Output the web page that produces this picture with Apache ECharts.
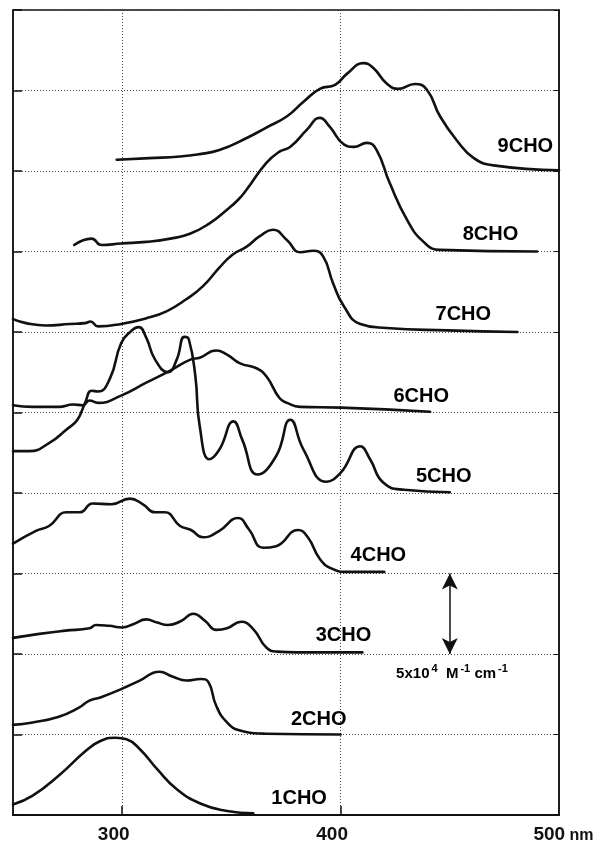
<!DOCTYPE html>
<html>
<head>
<meta charset="utf-8">
<script src="https://cdn.jsdelivr.net/npm/echarts@6/dist/echarts.min.js"></script>
<style>
  html, body { margin: 0; padding: 0; background: #fff; }
  #chart { width: 602px; height: 844px; }
</style>
</head>
<body>
<div id="chart"></div>
<script>
// wavelength (nm), offset absorbance in grid units (1 unit = 5x10^4 M-1 cm-1)
const cho1 = [[250,0.13],[259,0.24],[271,0.49],[283.5,0.80],[290,0.92],[297,0.96],[302,0.94],[308,0.82],[316,0.57],[325,0.32],[336,0.14],[348,0.05],[360,0.02]];
const cho2 = [[250,1.12],[259,1.15],[271,1.22],[280,1.33],[285,1.42],[290,1.46],[300,1.57],[308,1.67],[317,1.78],[323,1.72],[329.5,1.67],[336,1.69],[339.5,1.65],[343,1.36],[348,1.15],[354,1.05],[366,1.01],[400,1.00]];
const cho3 = [[250,2.20],[262,2.25],[274,2.29],[285,2.32],[288,2.36],[294,2.35],[300,2.33],[305,2.37],[311,2.43],[316,2.39],[321,2.36],[327,2.41],[332.5,2.50],[338,2.41],[343,2.30],[348,2.32],[354.5,2.40],[360,2.31],[366,2.08],[371,2.03],[380,2.02],[410,2.02]];
const cho4 = [[250,3.37],[260.5,3.53],[266.5,3.59],[274.5,3.76],[280.5,3.76],[286.5,3.87],[295,3.86],[303.5,3.93],[309.5,3.86],[315,3.76],[319.5,3.76],[326.5,3.59],[331.5,3.54],[337,3.45],[344.5,3.53],[353,3.69],[358,3.55],[364.5,3.32],[370.5,3.34],[380.5,3.54],[385,3.45],[390.5,3.18],[396,3.06],[403,3.02],[420,3.02]];
const cho5 = [[250,4.52],[257.5,4.52],[266.5,4.62],[274.5,4.79],[279.5,4.91],[283,5.12],[286,5.27],[289,5.26],[294.5,5.43],[299.5,5.86],[304,6.01],[307.5,6.06],[311,5.93],[315,5.66],[321,5.50],[325,5.66],[328.5,5.94],[330.5,5.91],[333.5,5.45],[335.5,4.83],[340,4.42],[344.5,4.54],[351,4.89],[355,4.66],[362,4.23],[370.5,4.46],[377,4.91],[383,4.54],[393.5,4.14],[400,4.25],[409,4.58],[413.5,4.42],[419.5,4.13],[429,4.04],[450,4.01]];
const cho6 = [[250,5.09],[259,5.07],[271,5.07],[277.5,5.10],[282,5.09],[285,5.15],[289,5.12],[299.5,5.21],[311,5.37],[322,5.52],[331.5,5.66],[335.5,5.68],[343,5.77],[348,5.72],[354,5.61],[361.5,5.55],[366,5.45],[372,5.18],[375.5,5.12],[381.5,5.07],[400,5.06],[441,5.01]];
const cho7 = [[250,6.16],[256,6.11],[265,6.08],[276,6.10],[283,6.11],[285.5,6.13],[289,6.07],[299.5,6.10],[311,6.17],[320.5,6.26],[329.5,6.41],[337,6.57],[344.5,6.80],[350.5,6.96],[357,7.06],[363,7.19],[369,7.27],[375.5,7.14],[381.5,6.99],[387.5,7.01],[392,6.94],[396.5,6.61],[401.5,6.32],[409,6.10],[421,6.05],[449,6.02],[481,6.00]];
const cho8 = [[278,7.08],[286,7.16],[290.5,7.08],[299.5,7.10],[311,7.12],[322,7.16],[331,7.22],[340,7.35],[348,7.52],[353,7.64],[357,7.77],[366,8.10],[372,8.24],[377,8.30],[384.5,8.51],[390.5,8.66],[395,8.55],[401.5,8.33],[406,8.30],[412,8.35],[416.5,8.26],[422.5,7.85],[430.5,7.39],[438,7.12],[445.5,7.02],[490,7.00]];
const cho9 = [[297.5,8.14],[312.5,8.16],[326.5,8.18],[335.5,8.21],[344.5,8.26],[357,8.41],[366,8.54],[375.5,8.68],[383,8.86],[390.5,9.02],[397.5,9.07],[403,9.21],[410.5,9.34],[415,9.28],[421,9.09],[426.5,9.02],[434,9.08],[439.5,9.01],[445.5,8.68],[453.5,8.37],[461,8.16],[470,8.07],[500,8.01]];

const curves = [cho1, cho2, cho3, cho4, cho5, cho6, cho7, cho8, cho9];
const curveNames = ['1CHO', '2CHO', '3CHO', '4CHO', '5CHO', '6CHO', '7CHO', '8CHO', '9CHO'];
// label anchor for each curve name: [nm, y]
const labelPos = [[381,0.20],[390,1.19],[401.3,2.23],[417.3,3.22],[447.2,4.21],[436.9,5.20],[456.2,6.22],[468.6,7.21],[484.6,8.30]];

const xTickLabels = [300, 400, 500];
const xTicks = [300, 400];
const scaleBar = [[450, 2], [450, 3]];
const scaleTextPos = [451, 1.75];

const ink = '#111';
const font = 'Liberation Sans, Arial, sans-serif';
const chart = echarts.init(document.getElementById('chart'));

const lineSeries = curves.map((d, i) => ({
  name: curveNames[i],
  type: 'line',
  data: d,
  showSymbol: false,
  smooth: 0.5,
  lineStyle: { color: ink, width: 2.6, join: 'round', cap: 'round' },
  silent: true,
  z: 3,
}));

const option = {
  animation: false,
  backgroundColor: '#fff',
  grid: {
    left: 13, right: 43, top: 10, bottom: 28,
    show: true, borderColor: ink, borderWidth: 1.5,
  },
  xAxis: {
    type: 'value',
    min: 250,
    max: 500,
    axisLine: { show: true, lineStyle: { color: ink, width: 2 } },
    axisTick: { show: true, inside: true, length: 9, customValues: xTicks, lineStyle: { color: ink, width: 1.5 } },
    axisLabel: {
      customValues: xTickLabels,
      margin: 10,
      color: ink,
      fontSize: 19,
      fontWeight: 'bold',
      fontFamily: font,
      padding: [0, 17, 0, 0],
      formatter: v => v === 500 ? '{a|500}{u| nm}' : String(v),
      rich: {
        a: { fontSize: 19, fontWeight: 'bold', fontFamily: font, color: ink, padding: [0, 0, 0, 26] },
        u: { fontSize: 16, fontWeight: 'bold', fontFamily: font, color: ink, padding: [3, 0, 0, 0] },
      },
    },
    splitLine: { show: true, lineStyle: { color: '#444', width: 1, type: [1, 2] } },
  },
  yAxis: [
    {
      type: 'value',
      min: 0, max: 10, interval: 1,
      position: 'left',
      axisLine: { show: true, lineStyle: { color: ink, width: 1.5 } },
      axisTick: { show: true, inside: true, length: 9, lineStyle: { color: ink, width: 1.5 } },
      axisLabel: { show: false },
      splitLine: { show: true, lineStyle: { color: '#444', width: 1, type: [1, 2] } },
    },
    {
      type: 'value',
      min: 0, max: 10, interval: 1,
      position: 'right',
      axisLine: { show: true, lineStyle: { color: ink, width: 1.5 } },
      axisTick: { show: true, inside: true, length: 5, lineStyle: { color: ink, width: 1 } },
      axisLabel: { show: false },
      splitLine: { show: false },
    },
  ],
  series: [
    ...lineSeries,
    {
      name: 'labels',
      type: 'scatter',
      symbolSize: 0,
      silent: true,
      itemStyle: { opacity: 1 },
      data: labelPos.map((p, i) => ({ value: p, name: curveNames[i] })),
      label: {
        show: true,
        position: 'inside',
        formatter: '{b}',
        color: '#000',
        opacity: 1,
        fontSize: 20,
        fontWeight: 'bold',
        fontFamily: font,
      },
      z: 4,
    },
    {
      name: 'scale',
      type: 'scatter',
      symbolSize: 0,
      silent: true,
      itemStyle: { opacity: 1 },
      data: [{ value: scaleTextPos }],
      label: {
        show: true,
        position: 'inside',
        formatter: '5x10{s|4}  M{s|-1} cm{s|-1}',
        color: '#000',
        opacity: 1,
        fontSize: 15,
        fontWeight: 'bold',
        fontFamily: font,
        rich: {
          s: { fontSize: 11, fontWeight: 'bold', color: '#000', padding: [0, 0, 10, 2], fontFamily: font },
        },
      },
      markLine: {
        silent: true,
        symbol: ['arrow', 'arrow'],
        symbolSize: [12, 16],
        label: { show: false },
        lineStyle: { color: ink, width: 1.5, type: 'solid' },
        data: [[{ coord: scaleBar[0] }, { coord: scaleBar[1] }]],
      },
      z: 4,
    },
  ],
};

chart.setOption(option);
</script>
</body>
</html>
